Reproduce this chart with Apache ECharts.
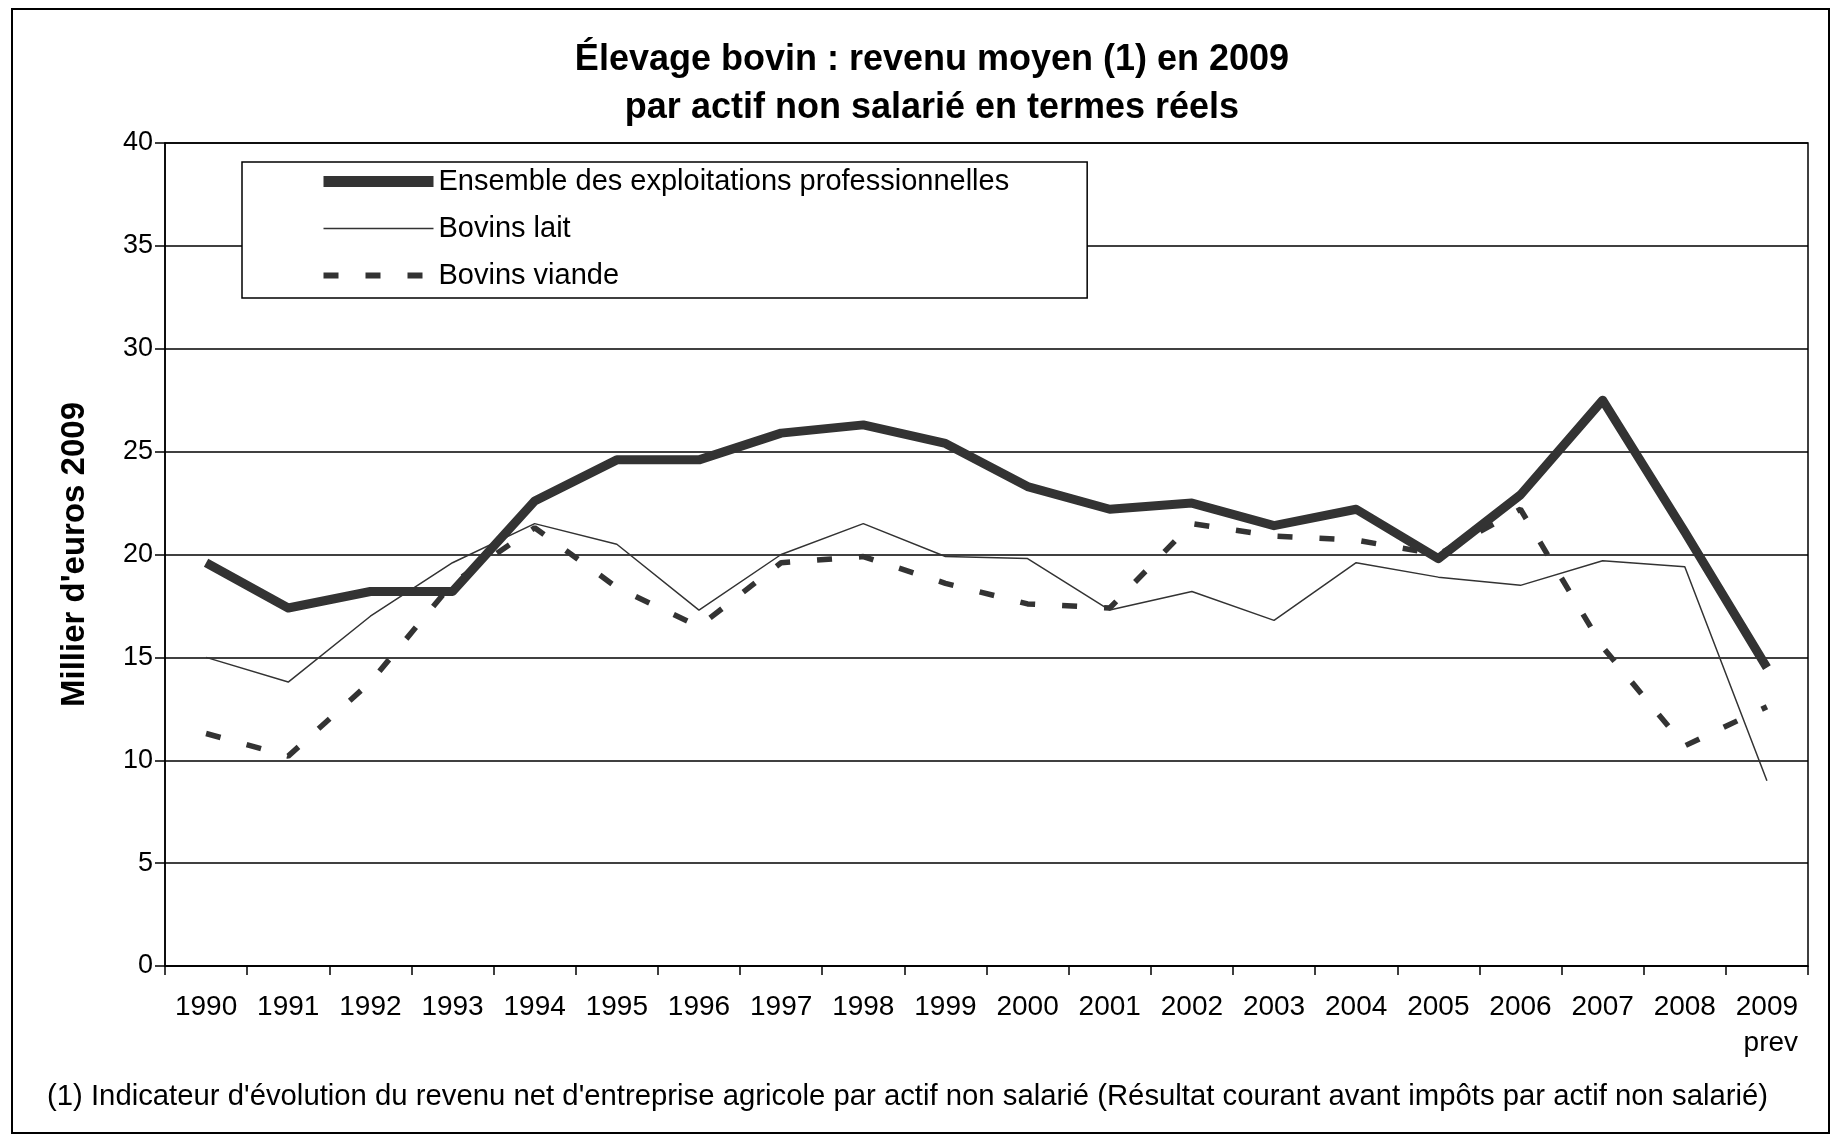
<!DOCTYPE html>
<html>
<head>
<meta charset="utf-8">
<script src="https://cdn.jsdelivr.net/npm/echarts@6/dist/echarts.min.js"></script>
<style>
  html, body { margin: 0; padding: 0; background: #fff; }
  #chart { width: 1836px; height: 1138px; }
</style>
</head>
<body>
<div id="chart"></div>
<script>
// années (2009 = prévision)
const years = ['1990', '1991', '1992', '1993', '1994', '1995', '1996', '1997', '1998', '1999',
  '2000', '2001', '2002', '2003', '2004', '2005', '2006', '2007', '2008', '2009'];

// milliers d'euros 2009
const ensemble = [19.6, 17.4, 18.2, 18.2, 22.6, 24.6, 24.6, 25.9, 26.3, 25.4,
  23.3, 22.2, 22.5, 21.4, 22.2, 19.8, 22.9, 27.5, 21.1, 14.5];
const bovinsLait = [15.0, 13.8, 17.0, 19.6, 21.5, 20.5, 17.3, 20.0, 21.5, 19.9,
  19.8, 17.3, 18.2, 16.8, 19.6, 18.9, 18.5, 19.7, 19.4, 9.0];
const bovinsViande = [11.3, 10.2, 13.8, 18.6, 21.3, 18.4, 16.5, 19.6, 19.9, 18.6,
  17.6, 17.4, 21.5, 20.9, 20.7, 20.0, 22.2, 15.5, 10.7, 12.6];

const yTicks = [0, 5, 10, 15, 20, 25, 30, 35, 40];

const FONT = "'Liberation Sans', Arial, sans-serif";
const LINE = '#333333';
const DASH = [15, 27];

const chart = echarts.init(document.getElementById('chart'));

const option = {
  backgroundColor: '#fff',
  animation: false,
  title: {
    text: 'Élevage bovin : revenu moyen (1) en 2009\npar actif non salarié en termes réels',
    left: 927,
    top: 31,
    textAlign: 'center',
    textStyle: {
      fontFamily: FONT,
      fontSize: 36,
      fontWeight: 'bold',
      color: '#000',
      lineHeight: 48
    }
  },
  legend: {
    data: [
      { name: 'Ensemble des exploitations professionnelles', lineStyle: { width: 11, cap: 'butt' } },
      { name: 'Bovins lait', lineStyle: { width: 1.5 } },
      { name: 'Bovins viande', lineStyle: { width: 6, type: DASH, cap: 'butt' } }
    ],
    orient: 'vertical',
    left: 242,
    top: 162,
    padding: [5, 78, 8, 76],
    itemWidth: 110,
    itemHeight: 14,
    itemGap: 18,
    itemStyle: { opacity: 0, borderWidth: 0 },
    backgroundColor: '#fff',
    borderColor: '#000',
    borderWidth: 1.5,
    textStyle: { fontFamily: FONT, fontSize: 29, color: '#000' }
  },
  grid: {
    left: 165,
    right: 28,
    top: 143,
    bottom: 172,
    show: true,
    borderColor: '#000',
    borderWidth: 1.5
  },
  xAxis: {
    type: 'category',
    data: years,
    boundaryGap: true,
    axisLine: { lineStyle: { color: '#000', width: 1.5 } },
    axisTick: { show: true, length: 9, lineStyle: { color: '#000', width: 1.5 } },
    axisLabel: {
      interval: 0,
      margin: 27,
      color: '#000',
      fontFamily: FONT,
      fontSize: 28,
      formatter: function (v, i) {
        return i === years.length - 1 ? '{a|' + v + '}\n{b|prev}' : v;
      },
      rich: {
        a: { align: 'right', fontFamily: FONT, fontSize: 28, color: '#000', lineHeight: 28 },
        b: { align: 'right', fontFamily: FONT, fontSize: 28, color: '#000', lineHeight: 44 }
      }
    }
  },
  yAxis: {
    type: 'value',
    min: yTicks[0],
    max: yTicks[yTicks.length - 1],
    interval: 5,
    name: "Millier d'euros 2009",
    nameLocation: 'middle',
    nameRotate: 90,
    nameGap: 74,
    nameTextStyle: { fontFamily: FONT, fontSize: 33, fontWeight: 'bold', color: '#000' },
    axisLine: { show: true, lineStyle: { color: '#000', width: 1.5 } },
    axisTick: { show: true, length: 10, lineStyle: { color: '#000', width: 1.5 } },
    axisLabel: { margin: 12, color: '#000', fontFamily: FONT, fontSize: 27 },
    splitLine: { show: true, lineStyle: { color: '#000', width: 1.5 } }
  },
  series: [
    {
      name: 'Bovins lait',
      type: 'line',
      data: bovinsLait,
      symbol: 'none',
      z: 3,
      lineStyle: { color: LINE, width: 1.5 },
      itemStyle: { color: LINE }
    },
    {
      name: 'Bovins viande',
      type: 'line',
      data: bovinsViande,
      symbol: 'none',
      z: 4,
      lineStyle: { color: LINE, width: 5.5, type: DASH },
      itemStyle: { color: LINE }
    },
    {
      name: 'Ensemble des exploitations professionnelles',
      type: 'line',
      data: ensemble,
      symbol: 'none',
      z: 5,
      lineStyle: { color: LINE, width: 9, join: 'round' },
      itemStyle: { color: LINE }
    }
  ],
  graphic: [
    {
      type: 'rect',
      shape: { x: 12, y: 9, width: 1817, height: 1124 },
      style: { fill: 'none', stroke: '#000', lineWidth: 2 },
      silent: true
    },
    {
      type: 'text',
      left: 47,
      top: 1082,
      style: {
        text: "(1) Indicateur d'évolution du revenu net d'entreprise agricole par actif non salarié (Résultat courant avant impôts par actif non salarié)",
        fontFamily: FONT,
        fontSize: 29.3,
        fill: '#000'
      }
    }
  ]
};

chart.setOption(option);
</script>
</body>
</html>
